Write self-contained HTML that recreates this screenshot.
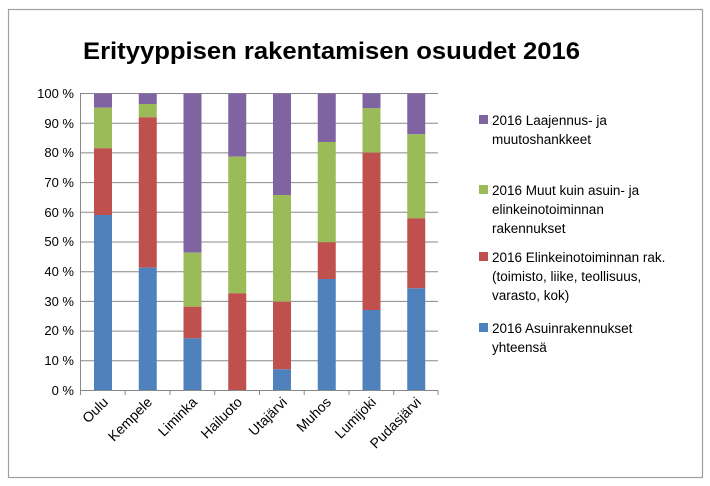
<!DOCTYPE html>
<html><head><meta charset="utf-8"><style>
html,body{margin:0;padding:0;background:#fff;}
svg{display:block;font-family:"Liberation Sans",sans-serif;}
</style></head><body>
<svg width="710" height="486" viewBox="0 0 710 486">
<rect x="0" y="0" width="710" height="486" fill="#fff"/>
<rect x="8.5" y="9.5" width="694" height="468" fill="none" stroke="#a0a0a0" stroke-width="1.2"/>
<text x="83" y="59" font-size="24" font-weight="bold" fill="#000" textLength="497" lengthAdjust="spacingAndGlyphs">Erityyppisen rakentamisen osuudet 2016</text>
<g stroke="#888" stroke-width="1">
<line x1="80" y1="93.5" x2="438" y2="93.5"/><line x1="80" y1="123.2" x2="438" y2="123.2"/>
<line x1="80" y1="152.9" x2="438" y2="152.9"/><line x1="80" y1="182.6" x2="438" y2="182.6"/>
<line x1="80" y1="212.3" x2="438" y2="212.3"/><line x1="80" y1="242" x2="438" y2="242"/>
<line x1="80" y1="271.7" x2="438" y2="271.7"/><line x1="80" y1="301.4" x2="438" y2="301.4"/>
<line x1="80" y1="331.1" x2="438" y2="331.1"/><line x1="80" y1="360.8" x2="438" y2="360.8"/>
<line x1="80" y1="390.5" x2="438" y2="390.5"/>
<line x1="80.5" y1="93" x2="80.5" y2="390"/>
<line x1="80.5" y1="390" x2="80.5" y2="395"/><line x1="125.2" y1="390" x2="125.2" y2="395"/>
<line x1="170" y1="390" x2="170" y2="395"/><line x1="214.7" y1="390" x2="214.7" y2="395"/>
<line x1="259.5" y1="390" x2="259.5" y2="395"/><line x1="304.2" y1="390" x2="304.2" y2="395"/>
<line x1="349" y1="390" x2="349" y2="395"/><line x1="393.7" y1="390" x2="393.7" y2="395"/>
<line x1="438" y1="390" x2="438" y2="395"/>
</g>
<g font-size="13" fill="#000" text-anchor="end">
<text x="74" y="98">100 %</text><text x="74" y="128">90 %</text><text x="74" y="157">80 %</text>
<text x="74" y="187">70 %</text><text x="74" y="217">60 %</text><text x="74" y="246">50 %</text>
<text x="74" y="276">40 %</text><text x="74" y="306">30 %</text><text x="74" y="335">20 %</text>
<text x="74" y="365">10 %</text><text x="74" y="395">0 %</text>
</g>
<g>
<rect x="94" y="93.5" width="18" height="14.2" fill="#8064A2"/><rect x="94" y="107.7" width="18" height="40.6" fill="#9BBB59"/><rect x="94" y="148.3" width="18" height="66.7" fill="#C0504D"/><rect x="94" y="215" width="18" height="175" fill="#4F81BD"/>
<rect x="138.75" y="93.5" width="18" height="10.5" fill="#8064A2"/><rect x="138.75" y="104" width="18" height="13.3" fill="#9BBB59"/><rect x="138.75" y="117.3" width="18" height="150.4" fill="#C0504D"/><rect x="138.75" y="267.7" width="18" height="122.3" fill="#4F81BD"/>
<rect x="183.5" y="93.5" width="18" height="159.2" fill="#8064A2"/><rect x="183.5" y="252.7" width="18" height="54" fill="#9BBB59"/><rect x="183.5" y="306.7" width="18" height="31.6" fill="#C0504D"/><rect x="183.5" y="338.3" width="18" height="51.7" fill="#4F81BD"/>
<rect x="228.25" y="93.5" width="18" height="63.2" fill="#8064A2"/><rect x="228.25" y="156.7" width="18" height="136.6" fill="#9BBB59"/><rect x="228.25" y="293.3" width="18" height="96.7" fill="#C0504D"/>
<rect x="273" y="93.5" width="18" height="101.5" fill="#8064A2"/><rect x="273" y="195" width="18" height="106.7" fill="#9BBB59"/><rect x="273" y="301.7" width="18" height="67.6" fill="#C0504D"/><rect x="273" y="369.3" width="18" height="20.7" fill="#4F81BD"/>
<rect x="317.75" y="93.5" width="18" height="48.5" fill="#8064A2"/><rect x="317.75" y="142" width="18" height="100.3" fill="#9BBB59"/><rect x="317.75" y="242.3" width="18" height="36.7" fill="#C0504D"/><rect x="317.75" y="279" width="18" height="111" fill="#4F81BD"/>
<rect x="362.5" y="93.5" width="18" height="14.8" fill="#8064A2"/><rect x="362.5" y="108.3" width="18" height="44.4" fill="#9BBB59"/><rect x="362.5" y="152.7" width="18" height="157.3" fill="#C0504D"/><rect x="362.5" y="310" width="18" height="80" fill="#4F81BD"/>
<rect x="407.25" y="93.5" width="18" height="40.8" fill="#8064A2"/><rect x="407.25" y="134.3" width="18" height="84" fill="#9BBB59"/><rect x="407.25" y="218.3" width="18" height="70" fill="#C0504D"/><rect x="407.25" y="288.3" width="18" height="101.7" fill="#4F81BD"/>
</g>
<g font-size="14" fill="#000" text-anchor="end">
<text transform="translate(109,403) rotate(-45)">Oulu</text>
<text transform="translate(153,403) rotate(-45)">Kempele</text>
<text transform="translate(198,403) rotate(-45)">Liminka</text>
<text transform="translate(243,403) rotate(-45)">Hailuoto</text>
<text transform="translate(288,403) rotate(-45)">Utajärvi</text>
<text transform="translate(332,403) rotate(-45)">Muhos</text>
<text transform="translate(377,403) rotate(-45)">Lumijoki</text>
<text transform="translate(422,403) rotate(-45)">Pudasjärvi</text>
</g>
<g font-size="13.5" fill="#000">
<rect x="479" y="115" width="9" height="9" fill="#8064A2"/>
<text x="492" y="125">2016 Laajennus- ja</text><text x="492" y="144">muutoshankkeet</text>
<rect x="479" y="185" width="9" height="9" fill="#9BBB59"/>
<text x="492" y="195">2016 Muut kuin asuin- ja</text><text x="492" y="214">elinkeinotoiminnan</text><text x="492" y="233">rakennukset</text>
<rect x="479" y="252" width="9" height="9" fill="#C0504D"/>
<text x="492" y="262">2016 Elinkeinotoiminnan rak.</text><text x="492" y="281">(toimisto, liike, teollisuus,</text><text x="492" y="300">varasto, kok)</text>
<rect x="479" y="323" width="9" height="9" fill="#4F81BD"/>
<text x="492" y="333">2016 Asuinrakennukset</text><text x="492" y="352">yhteensä</text>
</g>
</svg>
</body></html>
